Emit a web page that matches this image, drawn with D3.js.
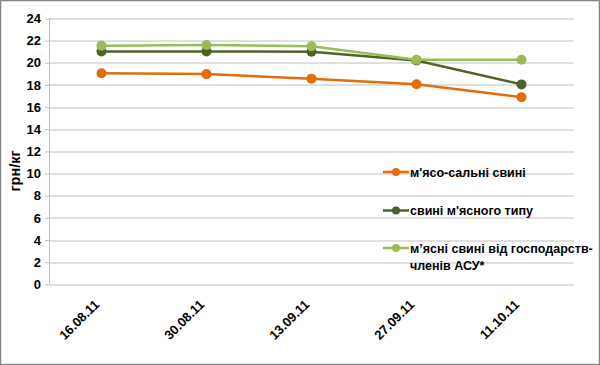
<!DOCTYPE html>
<html>
<head>
<meta charset="utf-8">
<script src="https://d3js.org/d3.v7.min.js"></script>
<style>
body { margin: 0; background: #fff; }
text { font-family: "Liberation Sans", Arial, sans-serif; font-weight: bold; fill: #000; }
</style>
</head>
<body>
<div id="viz"></div>
<script>
// data
var dates = ["16.08.11", "30.08.11", "13.09.11", "27.09.11", "11.10.11"];
var yTicks = [0, 2, 4, 6, 8, 10, 12, 14, 16, 18, 20, 22, 24];
var seriesNames = ["м'ясо-сальні свині", "свині м'ясного типу", "м’ясні свині від господарств-членів АСУ*"];
var meatFat = [19.05, 18.98, 18.57, 18.07, 16.9];
var meatType = [21.02, 21.03, 21.0, 20.2, 18.05];
var asuFarms = [21.55, 21.6, 21.5, 20.27, 20.27];
var colors = ["#e46c0a", "#4f6228", "#9bbb59"];

var W = 600, H = 365;
var margin = {top: 18.5, right: 26, bottom: 80.7, left: 49};
var width = W - margin.left - margin.right;
var height = H - margin.top - margin.bottom;

var svg = d3.select("#viz").append("svg")
    .attr("width", W).attr("height", H);

// outer frame
svg.append("rect")
    .attr("x", 0.5).attr("y", 0.5)
    .attr("width", W - 1).attr("height", H - 1)
    .attr("fill", "#fff").attr("stroke", "#868686").attr("stroke-width", 1.5);

var g = svg.append("g")
    .attr("transform", "translate(" + margin.left + "," + margin.top + ")");

var x = d3.scalePoint().domain(dates).range([0, width]).padding(0.5);
var y = d3.scaleLinear().domain([0, 24]).range([height, 0]);

// gridlines
g.selectAll(".grid").data(yTicks).enter().append("line")
    .attr("x1", 0).attr("x2", width)
    .attr("y1", function(d) { return Math.round(y(d)) + 0.5; })
    .attr("y2", function(d) { return Math.round(y(d)) + 0.5; })
    .attr("stroke", "#bfbfbf").attr("stroke-width", 1);

// y axis line
g.append("line")
    .attr("x1", 0.5).attr("x2", 0.5)
    .attr("y1", 0).attr("y2", height)
    .attr("stroke", "#bfbfbf");

// y axis
var yAxis = g.append("g")
    .call(d3.axisLeft(y).tickValues(yTicks).tickSize(4).tickPadding(4));
yAxis.select(".domain").remove();
yAxis.selectAll(".tick line").attr("stroke", "#bfbfbf");
yAxis.selectAll("text").style("font-size", "13px").attr("fill", "#000");

// x axis labels
var xAxis = g.append("g")
    .attr("transform", "translate(0," + height + ")")
    .call(d3.axisBottom(x).tickSize(0));
xAxis.select(".domain").remove();
xAxis.selectAll("text")
    .style("font-size", "13px")
    .attr("text-anchor", "end")
    .attr("dy", null).attr("y", 0)
    .attr("transform", "translate(-2,21) rotate(-45)");

// y title
svg.append("text")
    .attr("transform", "translate(20,171) rotate(-90)")
    .attr("text-anchor", "middle")
    .style("font-size", "14.5px")
    .text("грн/кг");

var allSeries = [meatFat, meatType, asuFarms];
var line = d3.line()
    .x(function(d, i) { return x(dates[i]); })
    .y(function(d) { return y(d); });

allSeries.forEach(function(s, k) {
  g.append("path").datum(s)
      .attr("d", line)
      .attr("fill", "none")
      .attr("stroke", colors[k])
      .attr("stroke-width", 2.5);
  g.selectAll(".pt" + k).data(s).enter().append("circle")
      .attr("cx", function(d, i) { return x(dates[i]); })
      .attr("cy", function(d) { return y(d); })
      .attr("r", 5)
      .attr("fill", colors[k]);
});

// legend
var legY = [172, 210.5, 248];
seriesNames.forEach(function(name, k) {
  var lg = svg.append("g").attr("transform", "translate(383," + legY[k] + ")");
  lg.append("line").attr("x1", 0).attr("x2", 26)
      .attr("stroke", colors[k]).attr("stroke-width", 2.5);
  lg.append("circle").attr("cx", 13).attr("r", 4).attr("fill", colors[k]);
  var t = lg.append("text").attr("x", 27).attr("y", 4.5).style("font-size", "12.5px");
  if (k === 2) {
    t.append("tspan").attr("x", 27).text("м’ясні свині від господарств-");
    t.append("tspan").attr("x", 27).attr("dy", 17).text("членів АСУ*");
  } else {
    t.text(name);
  }
});
</script>
</body>
</html>
